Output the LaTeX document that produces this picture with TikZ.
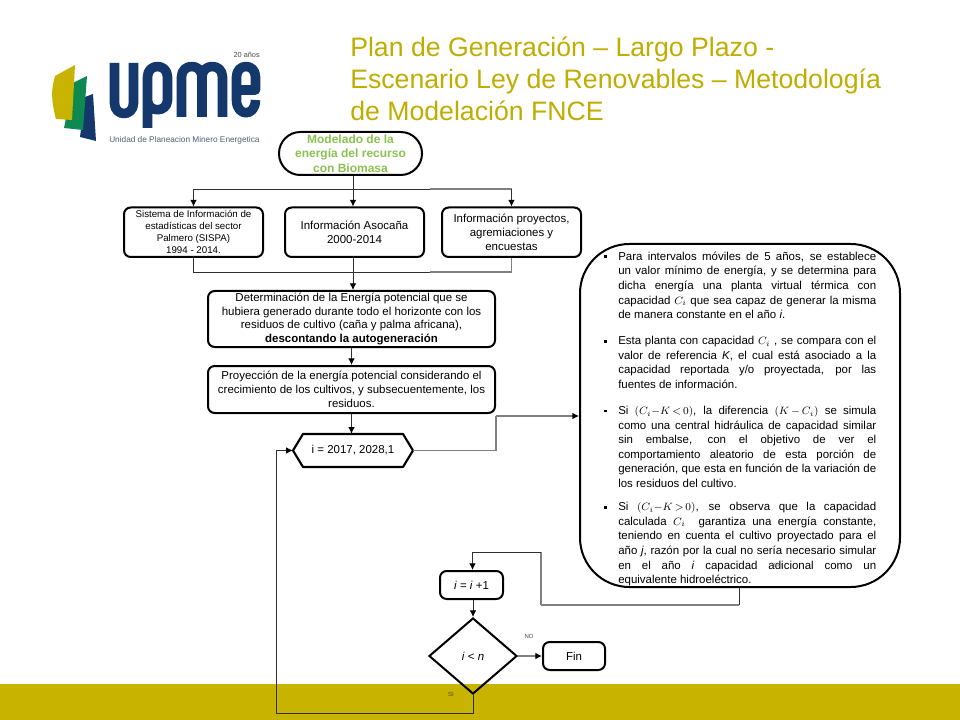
\documentclass[tikz,border=0pt]{standalone}
\usepackage{fontspec}
\setmainfont{Liberation Sans}
\usetikzlibrary{arrows.meta,shapes.geometric}
\definecolor{gold}{HTML}{C8B400}
\definecolor{titlec}{HTML}{BFAD00}
\definecolor{navy}{HTML}{14386B}
\definecolor{lgreen}{HTML}{0E8A50}
\definecolor{headg}{HTML}{8CC152}
\definecolor{conn}{HTML}{303030}
\definecolor{connl}{HTML}{808080}
\tikzset{
  box/.style={draw=black,line width=1.5pt,rounded corners=5pt,align=center,inner sep=0pt,font=\fontsize{8.6}{10.3}\selectfont},
  line/.style={draw=conn,line width=.7pt},
  linel/.style={draw=connl,line width=.8pt},
  arr/.style={-{Latex[length=5pt,width=5pt,black]}},
  stroke/.style={draw=navy,line width=7.2pt,line cap=butt,line join=round},
  tiny/.style={inner sep=0pt,font=\fontsize{4.5}{5}\selectfont,text=black!70}
}
\begin{document}
\begin{tikzpicture}[x=.75pt,y=-.75pt]
\useasboundingbox (0,0) rectangle (960,720);
\fill[white] (0,0) rectangle (960,720);
\fill[gold] (0,684) rectangle (960,720);
% logo
\fill[navy] (85,97) -- (93,94) -- (96,141) -- (80,137) -- cycle;
\fill[lgreen] (73,83) -- (87,76) -- (83,130) -- (64,128) -- cycle;
\fill[gold] (55,76) -- (75,65) -- (72,120) -- (56,119) .. controls (51,100) and (51,90) .. (55,76) -- cycle;
\draw[stroke] (114.5,63) -- (114.5,103) .. controls (114.5,117) and (133.5,117) .. (133.5,103) -- (133.5,63);
\draw[stroke] (147.5,128) -- (147.5,77) .. controls (147.5,63) and (167.5,63) .. (167.5,77) -- (167.5,100) .. controls (167.5,113) and (147.5,113) .. (147.5,100);
\draw[stroke] (181.5,117) -- (181.5,77) .. controls (181.5,63) and (202,63) .. (202,77) -- (202,117);
\draw[stroke] (202,77) .. controls (202,63) and (222.5,63) .. (222.5,77) -- (222.5,117);
\draw[stroke] (236.5,90) -- (255.5,90) -- (255.5,77) .. controls (255.5,63) and (236.5,63) .. (236.5,77) -- (236.5,100) .. controls (236.5,117) and (255.5,117) .. (255.5,100);
\node[inner sep=0pt,anchor=east,font=\fontsize{5.5}{6}\selectfont,text=black!70] (anos) at (260,55) {20 años};
\node[inner sep=0pt,anchor=west,font=\fontsize{6.2}{7}\selectfont,text=navy!50!black!70] (unidad) at (109,140.5) {Unidad de Planeacion Minero Energetica};
% title
\node[anchor=north west,inner sep=0pt,align=left,text=titlec,font=\fontsize{20}{24}\selectfont] (title) at (350,37)
 {Plan de Generación – Largo Plazo -\\Escenario Ley de Renovables – Metodología\\de Modelación FNCE};
% boxes
\node[box,rounded corners=16pt,minimum width=143*.75pt,minimum height=43*.75pt,text=headg,font=\bfseries\fontsize{9}{10.7}\selectfont] (top) at (350.5,153.5)
 {Modelado de la\\energía del recurso\\con Biomasa};
\node[box,minimum width=139*.75pt,minimum height=49.5*.75pt,font=\fontsize{7.3}{9}\selectfont] (b1) at (193.5,232.25)
 {Sistema de Información de\\estadísticas del sector\\Palmero (SISPA)\\1994 - 2014.};
\node[box,minimum width=139*.75pt,minimum height=49.5*.75pt] (b2) at (354.5,232.25)
 {Información Asocaña\\2000-2014};
\node[box,minimum width=139*.75pt,minimum height=49.5*.75pt] (b3) at (511.5,232.25)
 {Información proyectos,\\agremiaciones y\\encuestas};
\node[box,minimum width=287*.75pt,minimum height=56*.75pt] (b4) at (351.5,319)
 {Determinación de la Energía potencial que se\\hubiera generado durante todo el horizonte con los\\residuos de cultivo (caña y palma africana),\\\textbf{descontando la autogeneración}};
\node[box,minimum width=287*.75pt,minimum height=47*.75pt] (b5) at (351.5,389.5)
 {Proyección de la energía potencial considerando el\\crecimiento de los cultivos, y subsecuentemente, los\\residuos.};
\node[inner sep=0pt,minimum width=120*.75pt,minimum height=33*.75pt,font=\fontsize{8.6}{10}\selectfont] (hex) at (353,450.5) {i = 2017, 2028,1};
\draw[black,line width=1.6pt,line join=round] (293,450.5) -- (303,434) -- (403,434) -- (413,450.5) -- (403,467) -- (303,467) -- cycle;
\node[draw=black,line width=1.5pt,rounded corners=37pt,minimum width=320*.75pt,minimum height=343*.75pt,inner sep=0pt] (big) at (740,415.5) {};
\node[inner sep=0pt,anchor=north west] (bigtext) at (618,251.5) {%
\begin{minipage}[t]{193.5pt}
\fontsize{8.6}{10.95}\selectfont\setlength{\parindent}{0pt}\setlength{\parskip}{8.6pt}\emergencystretch=3em\hbadness=10000
\newcommand{\bul}{\leavevmode\llap{\rule[.18em]{2.2pt}{2.2pt}\hspace{8.6pt}}}
\newcommand{\mth}[1]{{\fontsize{8}{10.95}\selectfont$#1$}}
\bul Para intervalos móviles de 5 años, se establece\linebreak
un valor mínimo de energía, y se determina para\linebreak
dicha energía una planta virtual térmica con\linebreak
capacidad \mth{C_i} que sea capaz de generar la misma\linebreak
de manera constante en el año \textit{i}.

\bul Esta planta con capacidad \mth{C_i} , se compara con el\linebreak
valor de referencia \textit{K}, el cual está asociado a la\linebreak
capacidad reportada y/o proyectada, por las\linebreak
fuentes de información.

\bul Si \mth{(C_i{-}K\,{<}\,0)}, la diferencia \mth{(K\,{-}\,C_i)} se simula\linebreak
como una central hidráulica de capacidad similar\linebreak
sin embalse, con el objetivo de ver el\linebreak
comportamiento aleatorio de esta porción de\linebreak
generación, que esta en función de la variación de\linebreak
los residuos del cultivo.

\vspace{-2.25pt}\bul Si \mth{(C_i{-}K\,{>}\,0)}, se observa que la capacidad\linebreak
calculada \mth{C_i} \ garantiza una energía constante,\linebreak
teniendo en cuenta el cultivo proyectado para el\linebreak
año \textit{j}, razón por la cual no sería necesario simular\linebreak
en el año \textit{i} capacidad adicional como un\linebreak
equivalente hidroeléctrico.
\end{minipage}};
\node[box,minimum width=63*.75pt,minimum height=28*.75pt] (inc) at (471.5,585) {\textit{i} = \textit{i} +1};
\node[draw=black,line width=1.5pt,diamond,aspect=1.158,minimum width=88*.75pt,minimum height=76*.75pt,inner sep=0pt,font=\fontsize{8.6}{10}\selectfont] (dec) at (473,656) {\textit{i} < \textit{n}};
\node[box,minimum width=62*.75pt,minimum height=28*.75pt] (fin) at (574,656) {Fin};
\node[tiny] (no) at (529,636) {NO};
\node[tiny] (si) at (451,694) {SI};
\node[tiny,text=black!45] (no2) at (778,565) {NO};
% connectors
\coordinate (busT) at (353,189);
\coordinate (busR) at (430,189);
\coordinate (busB) at (353,272);
\coordinate (busBR) at (430,272);
\coordinate (hexUp) at (496,416);
\coordinate (out) at (739,605);
\coordinate (back) at (541,552);
\coordinate (backL) at (472.5,552);
\coordinate (loop) at (276,713);
\draw[line] (top.south -| busT) -- (busT);
\draw[line,arr] (busT) -| (b1.north);
\draw[line,arr] (busT) -- (busT |- b2.north);
\draw[line] (busT) -- (busR);
\draw[linel] (busR) -- (busR -| b3.north);
\draw[line,arr] (busR -| b3.north) -- (b3.north);
\draw[line] (b1.south) |- (busB);
\draw[line] (busB) -- (busBR);
\draw[linel] (busBR) -- (busBR -| b3.south) -- (b3.south);
\draw[line] (b2.south -| busB) -- (busB);
\draw[line,arr] (busB) -- (busB |- b4.north);
\draw[line,arr] (b4.south) -- (b5.north);
\draw[line,arr] (b5.south) -- (b5.south |- hex.north);
\draw[linel] (hex.east) -| (hexUp);
\draw[linel,arr] (hexUp) -- (hexUp -| big.west);
\draw[line] (big.south -| out) -- (out);
\draw[linel] (out) -- (out -| back);
\draw[linel] (out -| back) -- (back);
\draw[line,arr] (back) -- (backL) -- (backL |- inc.north);
\draw[line,arr] (inc.south -| dec.north) -- (dec.north);
\draw[linel,arr] (dec.east) -- (fin.west);
\draw[line] (dec.south) |- (loop);
\draw[line,arr] (loop) |- (hex.west);
\end{tikzpicture}
\end{document}
